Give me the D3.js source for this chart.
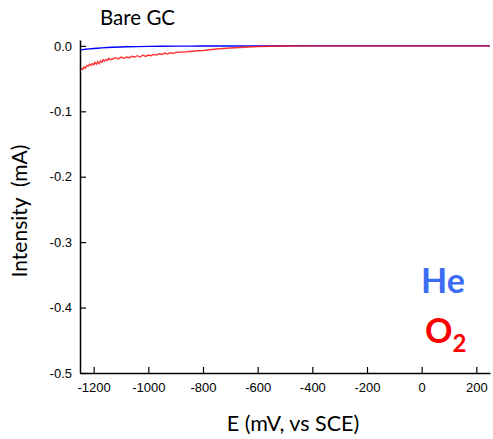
<!DOCTYPE html>
<html><head><meta charset="utf-8">
<script src="https://cdn.jsdelivr.net/npm/d3@7"></script>
<style>body{margin:0;background:#fff}svg{display:block}</style>
</head><body>
<script>
const title = "Bare GC";
const xLabel = "E (mV, vs SCE)";
const yLabel = "Intensity  (mA)";
const xTicks = [-1200, -1000, -800, -600, -400, -200, 0, 200];
const yTicks = [0.0, -0.1, -0.2, -0.3, -0.4, -0.5];
const seriesNames = ["He", "O2"];
const heE = [-1250,-1240,-1230,-1215,-1200,-1185,-1170,-1150,-1130,-1100,-1080,-1040,-1000,-950,-900,-850,-800,-700,-600,-400,-200,0,250];
const heI = [-0.0065,-0.0058,-0.0051,-0.0045,-0.004,-0.0035,-0.003,-0.0025,-0.002,-0.0016,-0.0014,-0.0011,-0.0008,-0.0006,-0.0004,-0.0003,-0.0002,-0.0001,0,0,0,0,0];
const o2E = [-1250,-1245,-1240,-1235,-1230,-1225,-1220,-1215,-1210,-1205,-1200,-1195,-1190,-1185,-1180,-1175,-1170,-1165,-1160,-1155,-1150,-1145,-1140,-1130,-1120,-1110,-1100,-1090,-1080,-1070,-1060,-1050,-1040,-1030,-1020,-1010,-1000,-990,-980,-970,-960,-950,-940,-930,-920,-910,-900,-880,-860,-840,-820,-800,-750,-700,-650,-600,-550,-500,-400,-200,0,250];
const o2I = [-0.038,-0.035,-0.036,-0.032,-0.034,-0.030,-0.031,-0.028,-0.030,-0.027,-0.029,-0.025,-0.028,-0.024,-0.027,-0.023,-0.025,-0.021,-0.023,-0.021,-0.022,-0.019,-0.021,-0.020,-0.018,-0.020,-0.017,-0.019,-0.017,-0.018,-0.016,-0.017,-0.015,-0.017,-0.014,-0.016,-0.014,-0.015,-0.013,-0.014,-0.012,-0.013,-0.011,-0.0125,-0.0105,-0.0115,-0.0100,-0.0095,-0.009,-0.0082,-0.0075,-0.007,-0.0048,-0.0032,-0.002,-0.001,-0.0005,-0.0002,0,0,0,0];

const W = 493, H = 439;
const svg = d3.select("body").append("svg").attr("width", W).attr("height", H);
const x = d3.scaleLinear().domain([-1250, 250]).range([80, 490]);
const y = d3.scaleLinear().domain([-0.5, 0.009]).range([373, 40]);

const lineGen = d3.line().x(d => x(d[0])).y(d => y(d[1]));
svg.append("path").datum(heE.map((e,i)=>[e, heI[i]]))
  .attr("d", lineGen).attr("fill","none").attr("stroke","#0000ff").attr("stroke-width",1.4);
svg.append("path").datum(o2E.map((e,i)=>[e, o2I[i]]))
  .attr("d", lineGen).attr("fill","none").attr("stroke","#ff0000").attr("stroke-opacity",0.8).attr("stroke-width",1.4);

const xAxis = svg.append("g").attr("transform","translate(0,373)")
  .call(d3.axisBottom(x).tickValues(xTicks).tickSizeInner(-6).tickSizeOuter(0).tickPadding(10));
const yAxis = svg.append("g").attr("transform","translate(80,0)")
  .call(d3.axisLeft(y).tickValues(yTicks).tickFormat(d3.format(".1f")).tickSizeInner(-6).tickSizeOuter(0).tickPadding(8));
[xAxis, yAxis].forEach(g => {
  g.select(".domain").attr("stroke","#000").attr("stroke-width",1.5);
  g.selectAll(".tick line").attr("stroke","#000").attr("stroke-width",1.2);
  g.selectAll(".tick text").attr("fill","#000").style("font-family","'Liberation Sans', Arial, sans-serif").style("font-size","13px");
});
yAxis.selectAll(".tick text").text(d => d === 0 ? "0.0" : d3.format(".1f")(d).replace("−","-"));
xAxis.selectAll(".tick text").text(d => String(d));

const lab = "Lato, 'Open Sans', sans-serif";
svg.append("text").attr("x",100).attr("y",25).text(title)
  .style("font-family",lab).style("font-size","20.5px").attr("fill","#000");
svg.append("text").attr("x",293).attr("y",431).attr("text-anchor","middle").text(xLabel)
  .style("font-family",lab).style("font-size","21.5px").attr("fill","#000");
svg.append("text").attr("transform","translate(27,211) rotate(-90)").attr("text-anchor","middle").text(yLabel)
  .style("white-space","pre")
  .style("font-family",lab).style("font-size","21px").attr("fill","#000");

svg.append("text").attr("x",443).attr("y",293).attr("text-anchor","middle").text(seriesNames[0])
  .style("font-family",lab).style("font-weight","bold").style("font-size","34px").attr("fill","#3a6cf4");
const o2 = svg.append("text").attr("x",425).attr("y",343)
  .style("font-family",lab).style("font-weight","bold").style("font-size","34px").attr("fill","#ff0000");
o2.append("tspan").text("O");
o2.append("tspan").attr("dy",9).style("font-size","24px").text("2");
</script>
</body></html>
